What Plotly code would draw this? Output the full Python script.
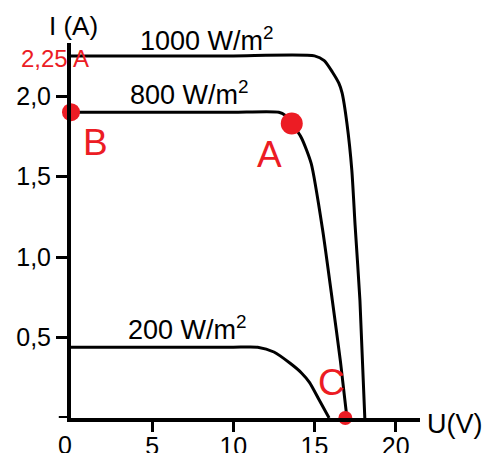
import plotly.graph_objects as go

# Data
u_1000 = [0, 5, 10, 15.0, 15.6, 16.1, 16.5, 16.7, 17.0, 17.3, 17.5, 17.8, 18.1]
i_1000 = [2.25, 2.25, 2.25, 2.25, 2.22, 2.15, 2.08, 2.02, 1.83, 1.54, 1.2, 0.73, 0.0]

u_800 = [0, 5, 10, 12.8, 13.2, 13.6, 14.2, 14.8, 15.5, 16.1, 16.6, 17.0]
i_800 = [1.9, 1.9, 1.9, 1.9, 1.88, 1.83, 1.74, 1.58, 1.17, 0.73, 0.35, 0.0]

u_200 = [0, 5, 10, 11.5, 12.5, 13.5, 14.2, 14.7, 15.3, 15.9]
i_200 = [0.44, 0.44, 0.44, 0.44, 0.41, 0.34, 0.28, 0.22, 0.11, 0.0]

point_names = ["B", "A", "C"]
point_u = [0.0, 13.6, 16.9]
point_i = [1.9, 1.83, 0.0]
point_sizes = [18, 22, 14]

x_ticks = [5, 10, 15, 20]
x_tick_text = ["5", "10", "15", "20"]
y_ticks = [0.5, 1.0, 1.5, 2.0]
y_tick_text = ["0,5", "1,0", "1,5", "2,0"]

RED = "#ec1c24"
FONT = "Liberation Sans, Arial, sans-serif"

fig = go.Figure()
for u, i in [(u_1000, i_1000), (u_800, i_800), (u_200, i_200)]:
    fig.add_trace(go.Scatter(x=u, y=i, mode="lines",
                             line=dict(color="black", width=3, shape="spline", smoothing=0.6),
                             hoverinfo="skip", cliponaxis=False))

fig.add_trace(go.Scatter(x=point_u, y=point_i, mode="markers",
                         marker=dict(color=RED, size=point_sizes, opacity=1, line=dict(width=0)),
                         opacity=1, cliponaxis=False, hoverinfo="skip"))


def ann(x, y, text, size, color="black", xref="x", yref="y"):
    return dict(x=x, y=y, text=text, xref=xref, yref=yref, showarrow=False,
                xanchor="center", yanchor="middle",
                font=dict(size=size, color=color, family=FONT))


annotations = [
    ann(0.39, 1.011, "1000 W/m<sup>2</sup>", 27, xref="paper", yref="paper"),
    ann(7.3, 2.02, "800 W/m<sup>2</sup>", 27),
    ann(7.15, 0.56, "200 W/m<sup>2</sup>", 27),
    ann(1.5, 1.71, point_names[0], 37, RED),
    ann(12.23, 1.64, point_names[1], 37, RED),
    ann(16.05, 0.22, point_names[2], 37, RED),
    ann(0.006, 1.045, "I (A)", 26, xref="paper", yref="paper"),
    ann(-0.046, 0.96, "2,25 A", 24, RED, xref="paper", yref="paper"),
    ann(1.1, -0.016, "U(V)", 27, xref="paper", yref="paper"),
    ann(-0.017, -0.072, "0", 25, xref="paper", yref="paper"),
]

fig.update_layout(
    width=495, height=453,
    margin=dict(l=63, r=83, t=35, b=43, autoexpand=False),
    paper_bgcolor="white", plot_bgcolor="white",
    showlegend=False,
    font=dict(family=FONT, size=25, color="black"),
    annotations=annotations,
    shapes=[dict(type="line", xref="paper", yref="y", x0=-0.035, x1=0, y0=0, y1=0,
                 line=dict(color="black", width=4))],
    xaxis=dict(range=[0, 21.5], showgrid=False, zeroline=False, automargin=False,
               showline=True, linecolor="black", linewidth=4,
               tickvals=x_ticks, ticktext=x_tick_text, ticks="outside",
               ticklen=10, tickwidth=3, tickcolor="black", ticklabelstandoff=-7,
               tickfont=dict(size=25, family=FONT)),
    yaxis=dict(range=[0, 2.33], showgrid=False, zeroline=False, automargin=False,
               showline=True, linecolor="black", linewidth=4,
               tickvals=y_ticks, ticktext=y_tick_text, ticks="outside",
               ticklen=11, tickwidth=3, tickcolor="black",
               tickfont=dict(size=25, family=FONT)),
)

fig.write_html("out.html")
